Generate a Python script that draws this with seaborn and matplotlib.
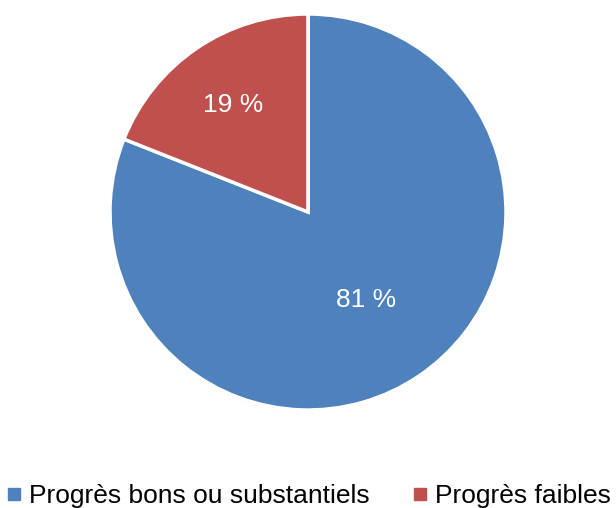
import matplotlib
matplotlib.use('Agg')
from matplotlib import pyplot as plt
from matplotlib.lines import Line2D
import seaborn as sns

# data
categories = ['Progrès bons ou substantiels', 'Progrès faibles']
shares = [81, 19]
colors = ['#4F81BD', '#C0504D']

sns.set_theme(style='white')
plt.rcParams['font.family'] = ['Liberation Sans', 'DejaVu Sans']
plt.rcParams['text.color'] = 'black'

fig = plt.figure(figsize=(6.16, 5.08), dpi=100)
ax = fig.add_axes([110 / 616, (508 - 410) / 508, 396 / 616, 396 / 508])

wedges, texts, autotexts = ax.pie(shares, colors=colors, startangle=90, counterclock=False,
                                  autopct=lambda p: f'{p:.0f} %', pctdistance=0.52,
                                  wedgeprops={'edgecolor': 'white', 'linewidth': 2.5},
                                  textprops={'color': 'white', 'fontsize': 19})
# the smaller slice carries its label further out
x, y = autotexts[1].get_position()
autotexts[1].set_position((x * 0.67 / 0.52, y * 0.67 / 0.52))
for t in autotexts:
    t.set_va('center_baseline')
ax.set_xlim(-1, 1)
ax.set_ylim(-1, 1)

handles = [Line2D([], [], marker='s', ls='', color=c, markersize=8) for c in colors]
fig.legend(handles, categories, loc='center left', bbox_to_anchor=(0.003, 0.024), ncols=2,
           frameon=False, fontsize=19, handletextpad=0.12, columnspacing=1.45,
           borderaxespad=0, borderpad=0, handlelength=0.9)

fig.savefig('out.png', dpi=100)
plt.close('all')
